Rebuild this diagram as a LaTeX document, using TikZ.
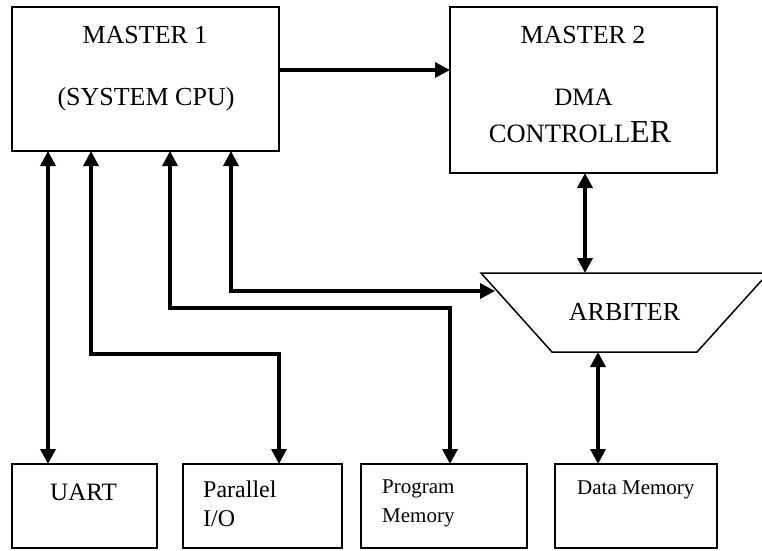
\documentclass[tikz,border=0pt]{standalone}
\usepackage{fontspec}
\setmainfont{Liberation Serif}
\usetikzlibrary{arrows.meta,calc}
\begin{document}
\begin{tikzpicture}[x=1pt,y=-1pt,
  box/.style={draw, line width=1.5pt, rectangle, inner sep=0pt, outer sep=0pt, anchor=north west},
  tip/.tip={Triangle[length=15pt,width=15pt]},
  conn/.style={line width=3.4pt, -tip},
  dconn/.style={line width=3.4pt, tip-tip},
  txt/.style={inner sep=0pt, anchor=base, font=\fontsize{26}{30}\selectfont},
  txtl/.style={inner sep=0pt, anchor=base west},
]
\fill[white] (0,0) rectangle (762,550);
\useasboundingbox (0,0) rectangle (762,550);

% boxes
\node[box, minimum width=267pt, minimum height=144pt] (m1) at (12,7) {};
\node[box, minimum width=267pt, minimum height=166pt] (m2) at (450,7) {};
\node[box, minimum width=145pt, minimum height=84pt] (uart) at (12,464) {};
\node[box, minimum width=159pt, minimum height=84pt] (pio) at (183,464) {};
\node[box, minimum width=166pt, minimum height=84pt] (pmem) at (361,464) {};
\node[box, minimum width=162pt, minimum height=84pt] (dmem) at (555,464) {};

% arbiter
\coordinate (atl) at (481,273);
\coordinate (atr) at (762,273);
\coordinate (arc) at (762,280);
\coordinate (abr) at (697,352);
\coordinate (abl) at (552,352);
\draw[line width=1.5pt] (arc) -- (abr) -- (abl) -- (atl) -- (atr);
\coordinate (arbtop) at (585,273);
\coordinate (arbbot) at (598,352);
\coordinate (arbleft) at (495,291);

% texts
\node[txt] (t1) at (145,43) {MASTER 1};
\node[txt] (t2) at (146,105) {(SYSTEM CPU)};
\node[txt] (t3) at (583,43) {MASTER 2};
\node[txt, font=\fontsize{25}{30}\selectfont] (t4) at (583.5,105) {DMA};
\node[txt, font=\fontsize{26.5}{30}\selectfont] (t5) at (580,142) {CONTROLL{\fontsize{32}{36}\selectfont ER}};
\node[txt] (arb) at (624.5,320) {ARBITER};
\node[txt, font=\fontsize{25}{30}\selectfont] (t6) at (83.5,500) {UART};
\node[txtl, font=\fontsize{24}{28}\selectfont] (t7) at (203,497) {Parallel};
\node[txtl, font=\fontsize{24}{28}\selectfont] (t8) at (203,526) {I/O};
\node[txtl, font=\fontsize{21}{25}\selectfont] (t9) at (382,493) {Program};
\node[txtl, font=\fontsize{21}{25}\selectfont] (t10) at (382,522) {Memory};
\node[txtl, font=\fontsize{21}{25}\selectfont] (t11) at (577,494) {Data Memory};

% connectors
\draw[conn] ($(m1.north east)+(0,63)$) -- ($(m2.north west)+(0,63)$);
\draw[dconn] ($(m1.south west)+(36,0)$) -- ($(uart.north west)+(36,0)$);
\draw[dconn] ($(m1.south west)+(79,0)$) -- ++(0,203) -| ($(pio.north west)+(96,0)$);
\draw[dconn] ($(m1.south west)+(158,0)$) -- ++(0,157) -| ($(pmem.north west)+(89,0)$);
\draw[dconn] ($(m1.south west)+(219,0)$) |- (arbleft);
\draw[dconn] ($(m2.south west)+(135,0)$) -- (arbtop);
\draw[dconn] (arbbot) -- ($(dmem.north west)+(43,0)$);
\end{tikzpicture}
\end{document}
